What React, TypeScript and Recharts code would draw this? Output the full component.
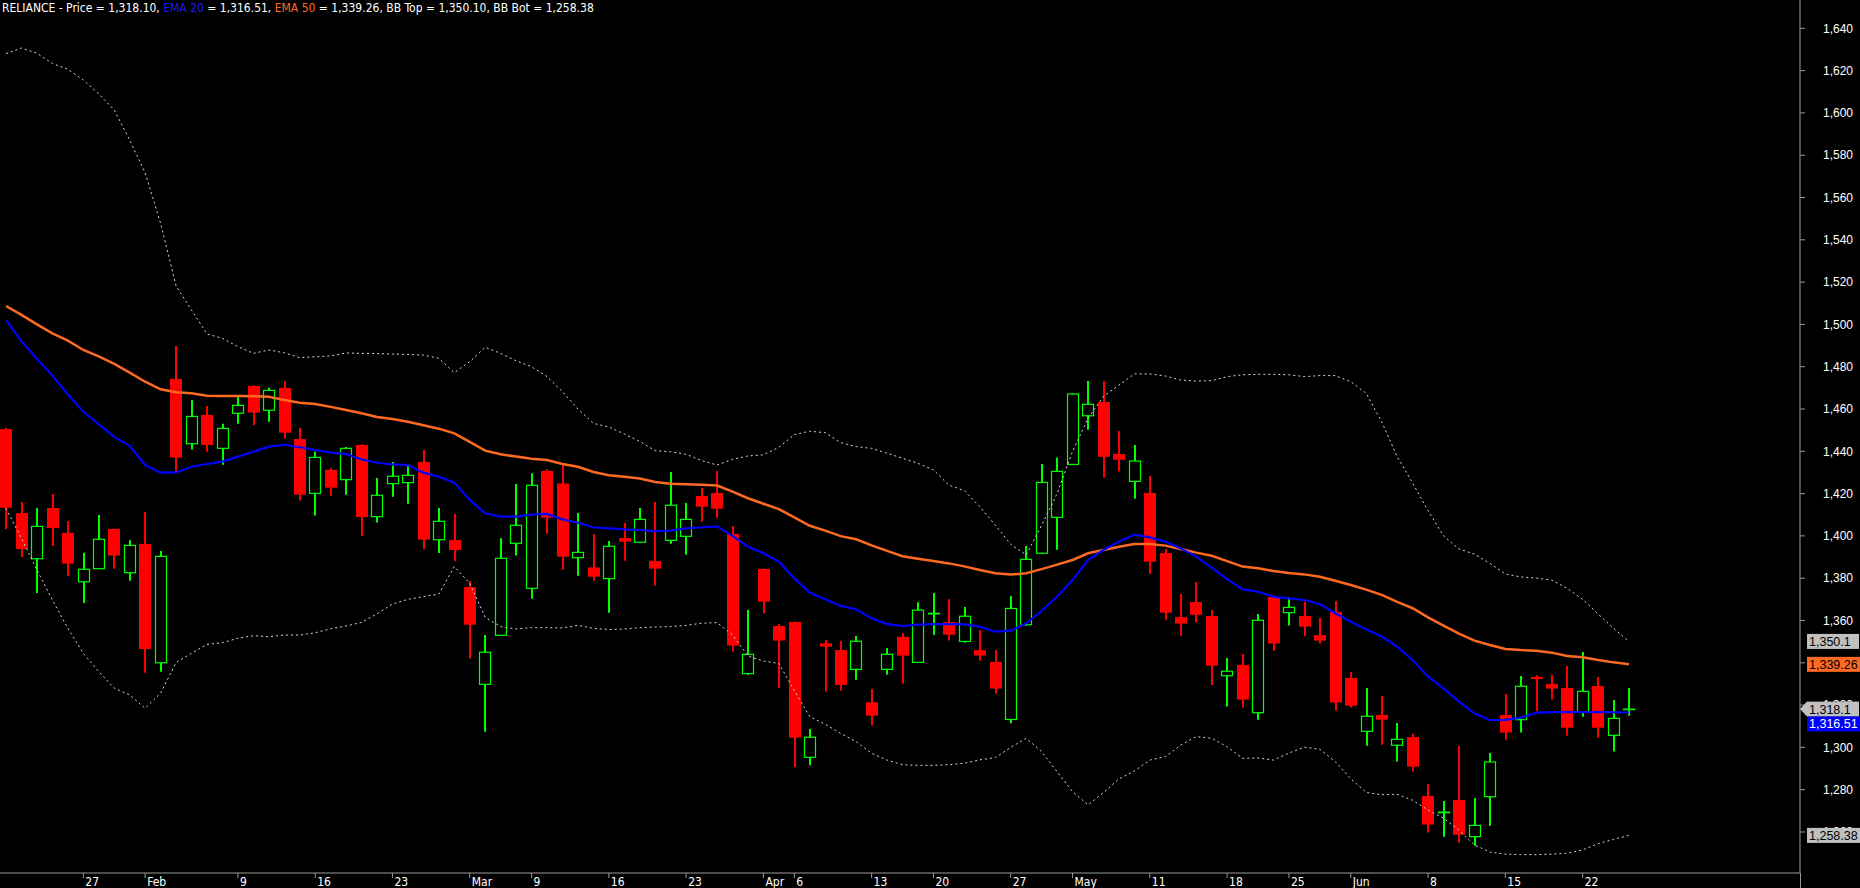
import React from 'react';
import { ComposedChart, Bar, Line, XAxis, YAxis, ReferenceLine } from 'recharts';

// daily candles, RELIANCE, 19 Jan - 25 Jun
const opens = [1450.5, 1410.8, 1389.2, 1413.2, 1401.4, 1378.3, 1384.5, 1403.3, 1382.6, 1396.2, 1340, 1474.2, 1443.6, 1457.2, 1441.4, 1458, 1470.9, 1459.4, 1470, 1445.8, 1420.1, 1431.2, 1426.6, 1443, 1409.1, 1424.7, 1425.2, 1435, 1398.2, 1398.1, 1375.8, 1329.8, 1353, 1396.5, 1375.2, 1430.7, 1424.8, 1389.7, 1385.1, 1379.8, 1399, 1397, 1388.1, 1397.9, 1399.8, 1418.9, 1420.3, 1400.9, 1334.9, 1384.4, 1357.4, 1359.3, 1295.3, 1349.2, 1346, 1336.9, 1321.3, 1336.9, 1352.3, 1340.2, 1363.1, 1359.3, 1350.1, 1346, 1340.4, 1313.2, 1358, 1391.8, 1408.8, 1433.8, 1456.8, 1463.3, 1438.7, 1425.8, 1420.3, 1391.9, 1361.6, 1368.7, 1362.1, 1333.9, 1339, 1316.4, 1371.1, 1363.7, 1362.1, 1353.1, 1364, 1332.8, 1307.6, 1315.3, 1301, 1304.9, 1277, 1269.1, 1275.1, 1257.8, 1276.7, 1315.3, 1313.1, 1333.3, 1330, 1328.1, 1316.6, 1329, 1305.7, 1317.9];
const highs = [1451, 1416, 1413.2, 1419.8, 1407, 1392, 1409.9, 1403.5, 1398, 1411.3, 1392.9, 1489.8, 1464.3, 1461.4, 1453, 1466.2, 1471.2, 1470, 1473.2, 1451, 1439.8, 1432.1, 1442, 1443.3, 1427.4, 1435, 1433.5, 1440.6, 1413.2, 1410.3, 1378.7, 1353.1, 1398.9, 1424.5, 1429.6, 1431.5, 1434.3, 1410.8, 1400.9, 1397.6, 1406.1, 1413.2, 1416, 1430.2, 1415.5, 1422.8, 1430.7, 1404.7, 1365, 1384.6, 1358.3, 1359.5, 1308.7, 1350.8, 1350.3, 1352.7, 1327.6, 1347, 1354.1, 1368.6, 1373, 1370.1, 1366.4, 1355.5, 1346, 1371.6, 1395.2, 1434, 1437.1, 1467.4, 1473.2, 1473.2, 1449.6, 1443, 1428.3, 1393.8, 1372.5, 1378.2, 1365, 1342.3, 1344.2, 1363.1, 1371.4, 1371.1, 1368.9, 1361.2, 1369.2, 1335.6, 1328.1, 1324.3, 1311.5, 1306.4, 1282.7, 1274.7, 1300.7, 1276.1, 1297.4, 1325.2, 1333.7, 1334.1, 1334.1, 1338.5, 1345.1, 1333.3, 1322.4, 1328.1];
const lows = [1403.3, 1390, 1373, 1395.2, 1381, 1368.3, 1384.3, 1384.5, 1378.8, 1335.3, 1335.8, 1429.9, 1440.8, 1439.8, 1433.7, 1453, 1452.4, 1454, 1446, 1416.7, 1409.6, 1419, 1419.5, 1400.1, 1406.3, 1418.5, 1415.2, 1393.8, 1391.9, 1388.1, 1342, 1307.4, 1352.8, 1390.7, 1370.3, 1401, 1384, 1381.2, 1378.8, 1363.7, 1388.3, 1396.8, 1376.5, 1396.3, 1391.1, 1406.7, 1408.6, 1345.3, 1334.3, 1363.4, 1328.2, 1290.6, 1291.5, 1326.4, 1326.8, 1332, 1310.3, 1334.3, 1330.2, 1340, 1353.1, 1350.5, 1349.5, 1341, 1325.4, 1311.4, 1357.5, 1391.6, 1393.5, 1433.6, 1450.2, 1427.5, 1430.4, 1417.6, 1382.1, 1360.4, 1352.8, 1359, 1329.5, 1319.3, 1318.8, 1313.1, 1345.7, 1357.6, 1352.7, 1349.1, 1317.4, 1318.9, 1300.8, 1301.3, 1293.3, 1288.6, 1259.7, 1257.8, 1255, 1253.5, 1263, 1303.6, 1307, 1317.2, 1322.6, 1305.5, 1314.5, 1304.6, 1298, 1315];
const closes = [1413.3, 1393.8, 1404.5, 1403.7, 1386.9, 1384.2, 1398.4, 1390.7, 1395.5, 1346.5, 1390.3, 1437, 1456.5, 1443, 1450.8, 1461.7, 1458.3, 1468.8, 1448.8, 1419.5, 1437.1, 1422.8, 1441.4, 1408.9, 1419.2, 1428.2, 1428.6, 1398.2, 1406.9, 1393.3, 1358, 1345, 1389.4, 1405, 1423.9, 1408.6, 1390.2, 1392.2, 1380.7, 1395.1, 1397.3, 1407.8, 1384.5, 1414.5, 1407.8, 1413.8, 1412.9, 1348.1, 1344, 1368.9, 1350.5, 1304.6, 1304.8, 1347.6, 1329.5, 1350.2, 1315, 1344, 1343.4, 1364.9, 1363.4, 1353.3, 1362, 1343.4, 1327.8, 1365.7, 1388.9, 1425.3, 1430.5, 1467.1, 1462.2, 1437.4, 1436, 1435.4, 1387.8, 1363.7, 1358.5, 1362.7, 1338.6, 1336, 1322.6, 1360.1, 1349.1, 1366.2, 1357.1, 1350.5, 1321.2, 1319.7, 1314.7, 1313.1, 1303.8, 1290.9, 1263.5, 1269.4, 1258.7, 1263.1, 1293.1, 1307, 1328.9, 1332.5, 1327.8, 1309.3, 1326.5, 1309.3, 1313.7, 1318.1];

const ema20 = [1502, 1492, 1483.6, 1475.8, 1466.9, 1458.7, 1452.7, 1446.8, 1442.6, 1433.5, 1429.9, 1430, 1432.7, 1434, 1435.1, 1437.5, 1439.8, 1442.2, 1443.1, 1441.9, 1440.6, 1439.4, 1438.7, 1436.2, 1434.6, 1433.8, 1433.5, 1429.9, 1428, 1425.2, 1417, 1410.7, 1409.1, 1409.1, 1410.2, 1410.4, 1407.8, 1406.2, 1404.1, 1403.6, 1403.1, 1402.8, 1402.3, 1402.5, 1403.6, 1404.1, 1404.5, 1400, 1394.9, 1391.8, 1387.8, 1379.9, 1373.2, 1370, 1366.9, 1365.3, 1361, 1358.3, 1357.4, 1358, 1358.3, 1358.3, 1358.2, 1357.1, 1354.7, 1355.2, 1358.7, 1364.6, 1371.3, 1379.1, 1388.6, 1393.3, 1397.3, 1400.6, 1399.3, 1397.3, 1394.1, 1390.2, 1385, 1379.6, 1374.7, 1373.6, 1371.3, 1370.5, 1369.7, 1367.8, 1363.4, 1359.4, 1355.8, 1352.4, 1347.6, 1341.3, 1333.4, 1327.9, 1321.6, 1316.1, 1312.9, 1313, 1314.1, 1316.3, 1316.7, 1316.7, 1316.7, 1316.7, 1316.6, 1316.5];
const ema50 = [1508.7, 1504.5, 1500, 1495.8, 1492.3, 1487.9, 1484.9, 1481.3, 1477.2, 1472.9, 1469.3, 1467.9, 1467.4, 1466.3, 1466.1, 1466.1, 1466, 1465.8, 1464.3, 1463, 1462.4, 1461, 1459.5, 1458, 1456.2, 1455.3, 1454, 1452.3, 1450.7, 1448.5, 1444.5, 1440.3, 1438.6, 1437.5, 1436.5, 1435.9, 1434, 1432.7, 1430.2, 1428.7, 1428, 1427.1, 1425.5, 1424.7, 1424.4, 1424.2, 1423.8, 1420.9, 1417.8, 1415.2, 1412.7, 1408.8, 1404.8, 1402.5, 1399.9, 1398.4, 1395.5, 1392.9, 1390.4, 1389.2, 1388.1, 1387, 1385.6, 1383.9, 1382.3, 1381.7, 1382.3, 1384.3, 1386.4, 1388.6, 1391.8, 1393.3, 1394.9, 1396.2, 1396.2, 1395.4, 1393.8, 1392.1, 1390.6, 1388.1, 1385.5, 1384.7, 1383.4, 1382.5, 1381.8, 1380.7, 1378.8, 1376.8, 1374.6, 1372.1, 1368.8, 1365.8, 1361.5, 1357.6, 1353.8, 1350.5, 1348.4, 1346.5, 1346, 1345.7, 1344.8, 1343.2, 1342.6, 1341.3, 1340.2, 1339.3];
const bbTop = [1628, 1630.7, 1628.2, 1623.4, 1620.6, 1615.6, 1609, 1601.4, 1587.2, 1571.7, 1547.8, 1518.2, 1506.8, 1495.5, 1493.4, 1489.5, 1486.3, 1487.9, 1486.6, 1484.3, 1484.7, 1485.1, 1486.5, 1486.3, 1486.2, 1486, 1485.8, 1485.5, 1484, 1477.2, 1482.4, 1489.2, 1486.3, 1482.8, 1480, 1475.3, 1468.2, 1460, 1453.2, 1451.5, 1448.2, 1444.7, 1440.3, 1439.8, 1438.6, 1435.6, 1433.5, 1436.2, 1437.8, 1438.3, 1441.9, 1447.9, 1449.5, 1448.8, 1444.1, 1442.2, 1441.4, 1439.1, 1436.7, 1434.3, 1431.2, 1424, 1421.4, 1413.8, 1405.1, 1396, 1391, 1405, 1420, 1440, 1455.5, 1466, 1471.3, 1476.6, 1476.6, 1475.6, 1473.7, 1473.2, 1473.4, 1475.3, 1476.2, 1476.4, 1476.4, 1476.2, 1475.3, 1475.8, 1475.8, 1472.9, 1467.4, 1454, 1437.5, 1425, 1411.9, 1400, 1393.8, 1391.4, 1387, 1382, 1380.6, 1380.1, 1379.1, 1375.2, 1370, 1363.1, 1356.3, 1350.1];
const bbBot = [1413, 1398.8, 1383.9, 1369.7, 1356.3, 1344.5, 1335.8, 1328, 1324.8, 1318.5, 1325.6, 1340.1, 1344.5, 1348.7, 1349.5, 1351.6, 1352.8, 1352.3, 1353.1, 1353.1, 1354.2, 1356.1, 1357.4, 1359.1, 1363.1, 1367.8, 1370, 1371.3, 1372.5, 1385.5, 1377.6, 1361.5, 1357.1, 1356, 1356.6, 1356.6, 1356.5, 1357.7, 1356.3, 1355.7, 1356, 1356.6, 1356.9, 1357.1, 1357.7, 1358.7, 1359, 1353.2, 1343.2, 1340.8, 1339.7, 1326.8, 1314.5, 1310.9, 1306.6, 1302.7, 1297.2, 1294, 1291.8, 1291.5, 1291.5, 1291.8, 1292.5, 1294.1, 1295.1, 1300, 1304.3, 1298, 1288.5, 1279.1, 1272.8, 1278.6, 1285.1, 1288.8, 1294, 1295.6, 1301.1, 1305.1, 1304.3, 1300.3, 1294.8, 1295, 1294, 1297.3, 1300.1, 1299.1, 1293.2, 1285.2, 1278.7, 1277.6, 1277.8, 1275, 1270.4, 1266.5, 1260.9, 1253.9, 1250.5, 1249.5, 1249.3, 1249.3, 1249.5, 1250, 1251.5, 1254.5, 1256.5, 1258.4];

// date axis labels (candle index -> label)
const tickIdx = [5, 9, 15, 20, 25, 30, 34, 39, 44, 49, 51, 56, 60, 65, 69, 74, 79, 83, 87, 92, 97, 102];
const tickText = ['27', 'Feb', '9', '16', '23', 'Mar', '9', '16', '23', 'Apr', '6', '13', '20', '27', 'May', '11', '18', '25', 'Jun', '8', '15', '22'];
const priceTicks = [1260, 1280, 1300, 1320, 1340, 1360, 1380, 1400, 1420, 1440, 1460, 1480, 1500, 1520, 1540, 1560, 1580, 1600, 1620, 1640];

// last values shown in the header and on the price axis
const badgeValues = [1350.1, 1339.26, 1318.1, 1316.51, 1258.38];
const badgeText = ['1,350.1', '1,339.26', '1,318.1', '1,316.51', '1,258.38'];
const EMPTY_SLOTS = 10;

const data = Array.from({ length: opens.length + EMPTY_SLOTS }, (_, i) =>
  i < opens.length
    ? {
        i,
        open: opens[i],
        high: highs[i],
        low: lows[i],
        close: closes[i],
        range: [lows[i], highs[i]],
        ema20: ema20[i],
        ema50: ema50[i],
        bbTop: bbTop[i],
        bbBot: bbBot[i],
      }
    : { i }
);

const UP = '#00ff00';
const DOWN = '#ff0000';
const ORANGE = '#ff6a22';
const AXIS = '#9a9a9a';
const NARROW = "'Liberation Sans Narrow', 'Arial Narrow', 'DejaVu Sans Condensed', sans-serif";
const SANS = "'Liberation Sans', Arial, sans-serif";

const Candle = (props: any) => {
  const { x, y, width, height } = props;
  const p = props.payload || props;
  if (p.open == null || x == null) return null;
  const top = Math.min(y, y + height);
  const bot = Math.max(y, y + height);
  const span = p.high - p.low;
  const py = (v: number) => (span > 0 ? top + ((p.high - v) / span) * (bot - top) : top);
  const cx = Math.round(x + width / 2);
  const bt = py(Math.max(p.open, p.close));
  const bb = py(Math.min(p.open, p.close));
  if (p.close >= p.open) {
    return (
      <g>
        <line x1={cx} x2={cx} y1={top} y2={bt} stroke={UP} strokeWidth={2} />
        <line x1={cx} x2={cx} y1={bb} y2={bot} stroke={UP} strokeWidth={2} />
        <rect x={cx - 5.5} y={bt} width={11} height={Math.max(bb - bt, 0.5)} fill="none" stroke={UP} strokeWidth={1.2} />
      </g>
    );
  }
  return (
    <g>
      <line x1={cx} x2={cx} y1={top} y2={bot} stroke={DOWN} strokeWidth={2} />
      <rect x={cx - 6} y={bt} width={12} height={Math.max(bb - bt, 2)} fill={DOWN} />
    </g>
  );
};

const DateTick = (props: any) => {
  const { x, y, payload } = props;
  const label = tickText[tickIdx.indexOf(payload.value)];
  return (
    <text x={x + 2} y={y + 8} fill="#ffffff" fontSize={12} fontFamily={NARROW} textAnchor="start">
      {label}
    </text>
  );
};

const Badge = (props: any) => {
  const { viewBox, text, bg, fg, arrow, nudge = 0, w } = props;
  if (!viewBox) return null;
  const x = viewBox.x + viewBox.width;
  const y = viewBox.y + nudge;
  return (
    <g>
      {arrow && <polygon points={`${x},${y} ${x + 7},${y - 7.5} ${x + 7},${y + 7.5}`} fill={bg} />}
      <rect x={x + 7} y={y - 7.5} width={w} height={15} fill={bg} />
      <text x={x + 9} y={y + 4.5} fill={fg} fontSize={12.5} fontFamily={SANS}>
        {text}
      </text>
    </g>
  );
};

const badgeStyle = [
  { bg: '#c0c0c0', fg: '#000000', w: 52 },
  { bg: ORANGE, fg: '#000000', w: 56 },
  { bg: '#c0c0c0', fg: '#000000', w: 52, arrow: true },
  { bg: '#0000ff', fg: '#ffffff', w: 56, nudge: 11.5 },
  { bg: '#c0c0c0', fg: '#000000', w: 56 },
];

export default function App() {
  return (
    <div style={{ position: 'fixed', left: 0, top: 0, width: 1860, height: 888, background: '#000', overflow: 'hidden' }}>
      <ComposedChart width={1860} height={888} data={data} margin={{ top: 0, right: 0, bottom: 0, left: 0 }}>
        <XAxis
          dataKey="i"
          type="category"
          ticks={tickIdx}
          interval={0}
          height={15}
          tickSize={5}
          tickMargin={0}
          padding={{ left: -1.7, right: 8.7 }}
          stroke={AXIS}
          tick={<DateTick />}
        />
        <YAxis
          orientation="right"
          width={60}
          domain={[1240.6, 1653.4]}
          allowDataOverflow
          ticks={priceTicks}
          interval={0}
          tickSize={5}
          tickMargin={18}
          stroke={AXIS}
          tick={{ fill: '#ffffff', fontSize: 12, fontFamily: SANS }}
          tickFormatter={(v: number) => v.toLocaleString('en-US')}
        />
        <Line dataKey="bbTop" stroke="#d8d8d8" strokeWidth={1} strokeDasharray="2 3" dot={false} activeDot={false} isAnimationActive={false} />
        <Line dataKey="bbBot" stroke="#d8d8d8" strokeWidth={1} strokeDasharray="2 3" dot={false} activeDot={false} isAnimationActive={false} />
        <Line dataKey="ema50" stroke={ORANGE} strokeWidth={2.5} dot={false} activeDot={false} isAnimationActive={false} />
        <Line dataKey="ema20" stroke="#0000ff" strokeWidth={2.2} dot={false} activeDot={false} isAnimationActive={false} />
        <Bar dataKey="range" barSize={12} shape={<Candle />} isAnimationActive={false} />
        {badgeValues.map((v, k) => (
          <ReferenceLine
            key={k}
            y={v}
            stroke="none"
            zIndex={3000}
            label={<Badge text={badgeText[k]} {...badgeStyle[k]} />}
          />
        ))}
      </ComposedChart>
      <div style={{ position: 'absolute', left: 1800, top: 873, width: 1, height: 15, background: AXIS }} />
      <div
        style={{
          position: 'absolute',
          left: 2,
          top: 1,
          color: '#ffffff',
          fontFamily: NARROW,
          fontSize: 12,
          lineHeight: '14px',
          whiteSpace: 'nowrap',
        }}
      >
        RELIANCE - Price = 1,318.10, <span style={{ color: '#1a1aff' }}>EMA 20</span> = 1,316.51,{' '}
        <span style={{ color: ORANGE }}>EMA 50</span> = 1,339.26, BB Top = 1,350.10, BB Bot = 1,258.38
      </div>
    </div>
  );
}
